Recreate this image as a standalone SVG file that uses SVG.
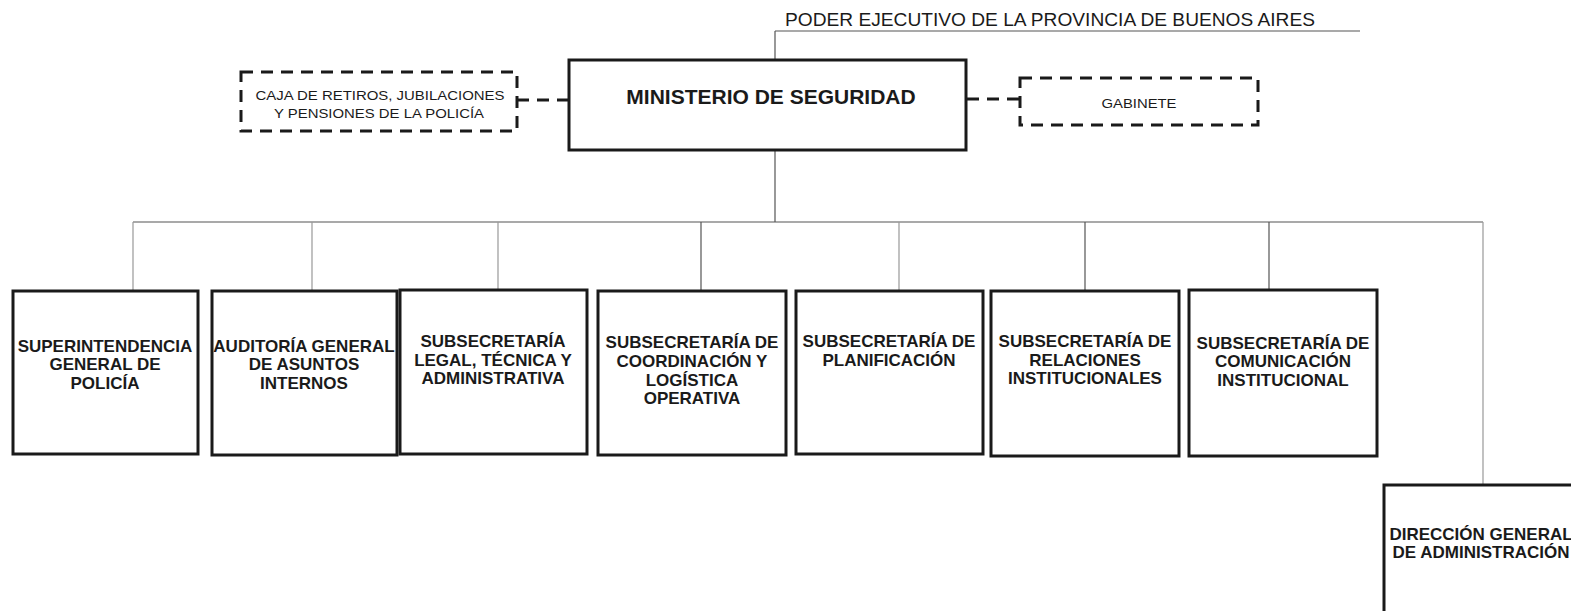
<svg xmlns="http://www.w3.org/2000/svg" width="1571" height="611" viewBox="0 0 1571 611">
<style>
.box{fill:#fff;stroke:#1a1a1a;stroke-width:3}
.dbox{fill:#fff;stroke:#1a1a1a;stroke-width:3;stroke-dasharray:12 8}
.ln{stroke:#555;stroke-width:1.2;fill:none}
.lt{stroke:#999;stroke-width:1.2;fill:none}
.dl{stroke:#1a1a1a;stroke-width:3;stroke-dasharray:12 8;fill:none}
.t{font-family:"Liberation Sans",Arial,sans-serif;font-weight:bold;font-size:17px;fill:#1a1a1a;text-anchor:middle}
.s{font-family:"Liberation Sans",Arial,sans-serif;font-size:13px;fill:#1a1a1a;text-anchor:middle}
</style>
<rect width="1571" height="611" fill="#fff"/>
<g id="connectors">
<path class="ln" d="M775 31H1360M775 31V60"/>
<path class="ln" d="M775 150V222M133 222H1483"/>
<path class="lt" d="M133 222V291M312 222V291M498 222V290M899 222V291M1483 222V485"/>
<path class="ln" d="M701 222V291M1085 222V291M1269 222V290"/>
<path class="dl" d="M517 100H568"/>
<path class="dl" d="M967 99H1020"/>
</g>
<g id="poder">
<text x="785" y="26" style="font-family:'Liberation Sans',Arial,sans-serif;font-size:18px;fill:#1a1a1a" textLength="530" lengthAdjust="spacingAndGlyphs">PODER EJECUTIVO DE LA PROVINCIA DE BUENOS AIRES</text>
</g>
<g id="ministerio">
<rect class="box" x="569" y="60" width="397" height="90"/>
<text class="t" x="771" y="104" style="font-size:21px">MINISTERIO DE SEGURIDAD</text>
</g>
<g id="caja">
<rect class="dbox" x="241" y="72" width="276" height="59"/>
<text class="s" x="380" y="100" textLength="249" lengthAdjust="spacingAndGlyphs">CAJA DE RETIROS, JUBILACIONES</text>
<text class="s" x="379" y="118" textLength="210" lengthAdjust="spacingAndGlyphs">Y PENSIONES DE LA POLICÍA</text>
</g>
<g id="gabinete">
<rect class="dbox" x="1020" y="78" width="238" height="47"/>
<text class="s" x="1139" y="108" textLength="75" lengthAdjust="spacingAndGlyphs">GABINETE</text>
</g>
<g id="superintendencia">
<rect class="box" x="13" y="291" width="185" height="163"/>
<text class="t" x="105" y="352">SUPERINTENDENCIA</text>
<text class="t" x="105" y="370">GENERAL DE</text>
<text class="t" x="105" y="389">POLICÍA</text>
</g>
<g id="auditoria">
<rect class="box" x="212" y="291" width="185" height="164"/>
<text class="t" x="304" y="352">AUDITORÍA GENERAL</text>
<text class="t" x="304" y="370">DE ASUNTOS</text>
<text class="t" x="304" y="389">INTERNOS</text>
</g>
<g id="legal">
<rect class="box" x="400" y="290" width="187" height="164"/>
<text class="t" x="493" y="347">SUBSECRETARÍA</text>
<text class="t" x="493" y="366">LEGAL, TÉCNICA Y</text>
<text class="t" x="493" y="384">ADMINISTRATIVA</text>
</g>
<g id="coordinacion">
<rect class="box" x="598" y="291" width="188" height="164"/>
<text class="t" x="692" y="348">SUBSECRETARÍA DE</text>
<text class="t" x="692" y="367">COORDINACIÓN Y</text>
<text class="t" x="692" y="386">LOGÍSTICA</text>
<text class="t" x="692" y="404">OPERATIVA</text>
</g>
<g id="planificacion">
<rect class="box" x="796" y="291" width="187" height="163"/>
<text class="t" x="889" y="347">SUBSECRETARÍA DE</text>
<text class="t" x="889" y="366">PLANIFICACIÓN</text>
</g>
<g id="relaciones">
<rect class="box" x="991" y="291" width="188" height="165"/>
<text class="t" x="1085" y="347">SUBSECRETARÍA DE</text>
<text class="t" x="1085" y="366">RELACIONES</text>
<text class="t" x="1085" y="384">INSTITUCIONALES</text>
</g>
<g id="comunicacion">
<rect class="box" x="1189" y="290" width="188" height="166"/>
<text class="t" x="1283" y="349">SUBSECRETARÍA DE</text>
<text class="t" x="1283" y="367">COMUNICACIÓN</text>
<text class="t" x="1283" y="386">INSTITUCIONAL</text>
</g>
<g id="direccion">
<rect class="box" x="1384" y="485" width="198" height="160"/>
<text class="t" x="1481" y="540">DIRECCIÓN GENERAL</text>
<text class="t" x="1481" y="558">DE ADMINISTRACIÓN</text>
</g>
</svg>
